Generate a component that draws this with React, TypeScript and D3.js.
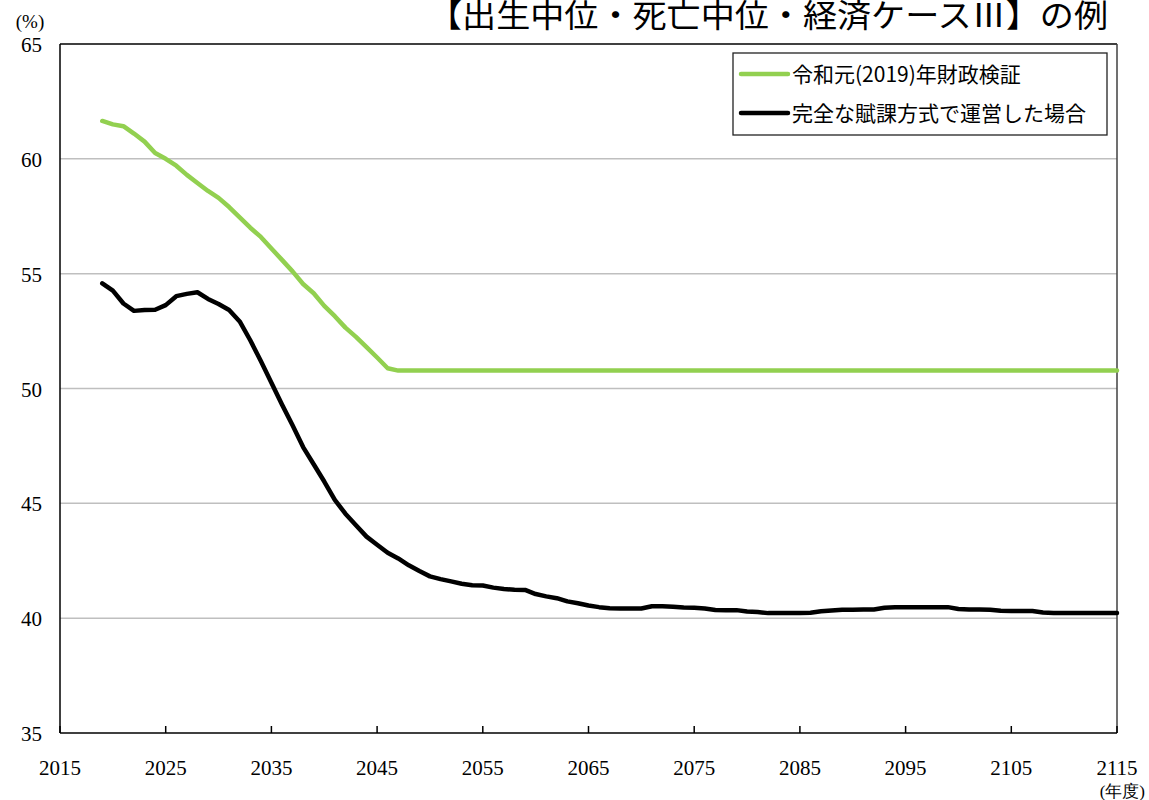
import React from "react";
import * as d3 from "d3";

const startYear = 2019;
const endYear = 2115;

// 令和元(2019)年財政検証 (2019-2046, then flat)
const zaiseiHead: number[] = [
  61.65, 61.5, 61.42, 61.1, 60.75, 60.25, 60.0, 59.7, 59.3, 58.95,
  58.6, 58.3, 57.9, 57.45, 57.0, 56.6, 56.1, 55.6, 55.1, 54.55,
  54.15, 53.6, 53.15, 52.65, 52.25, 51.8, 51.35, 50.88,
];
const zaiseiFlat = 50.78; // 2047 onwards

// 完全な賦課方式で運営した場合 (2019-2115)
const fuka: number[] = [
  54.58, 54.26, 53.7, 53.38, 53.42, 53.43, 53.63, 54.02, 54.12, 54.19,
  53.9, 53.68, 53.42, 52.92, 52.1, 51.2, 50.25, 49.3, 48.4, 47.45,
  46.7, 45.95, 45.15, 44.55, 44.05, 43.55, 43.2, 42.85, 42.6, 42.3,
  42.05, 41.82, 41.7, 41.6, 41.5, 41.43, 41.42, 41.33, 41.27, 41.24,
  41.23, 41.05, 40.95, 40.87, 40.73, 40.65, 40.55, 40.48, 40.43, 40.42,
  40.42, 40.42, 40.52, 40.52, 40.5, 40.46, 40.45, 40.42, 40.36, 40.35,
  40.35, 40.29, 40.27, 40.22, 40.22, 40.22, 40.22, 40.24, 40.3, 40.33,
  40.37, 40.37, 40.38, 40.38, 40.45, 40.48, 40.48, 40.48, 40.48, 40.48,
  40.48, 40.4, 40.38, 40.38, 40.37, 40.32, 40.31, 40.31, 40.31, 40.25,
  40.22, 40.22, 40.22, 40.22, 40.22, 40.22, 40.22,
];

const xTicks = [2015, 2025, 2035, 2045, 2055, 2065, 2075, 2085, 2095, 2105, 2115];
const yTicks = [35, 40, 45, 50, 55, 60, 65];
const gridValues = [40, 45, 50, 55, 60];

const title = "【出生中位・死亡中位・経済ケースⅢ】の例";
const legendLabels = ["令和元(2019)年財政検証", "完全な賦課方式で運営した場合"];
const colors = ["#92D050", "#000000"];

const W = 1149;
const H = 800;
const M = { left: 60, right: 1117, top: 44, bottom: 733 };

export default function App() {
  const x = d3.scaleLinear().domain([2015, 2115]).range([M.left, M.right]);
  const y = d3.scaleLinear().domain([35, 65]).range([M.bottom, M.top]);

  const years = d3.range(startYear, endYear + 1);
  const zaisei = years.map((yr, i) => ({
    year: yr,
    v: i < zaiseiHead.length ? zaiseiHead[i] : zaiseiFlat,
  }));
  const fukaData = years.map((yr, i) => ({ year: yr, v: fuka[i] }));

  const line = d3
    .line<{ year: number; v: number }>()
    .x((d) => x(d.year))
    .y((d) => y(d.v));

  const serif = "'Liberation Serif', 'DejaVu Serif', serif";
  const sans = "'Noto Sans CJK JP', 'Noto Sans', sans-serif";

  const lg = { x0: 733, y0: 53, x1: 1107, y1: 135 };

  return (
    <svg
      width={W}
      height={H}
      style={{ position: "absolute", left: 0, top: 0, background: "#fff" }}
    >
      <rect x={0} y={0} width={W} height={H} fill="#fff" />
      <text
        x={428}
        y={27}
        fontFamily={sans}
        fontSize={32}
        fill="#000"
        textLength={680}
        lengthAdjust="spacingAndGlyphs"
      >
        {title}
      </text>

      {gridValues.map((g) => (
        <line
          key={g}
          x1={M.left}
          x2={M.right}
          y1={y(g)}
          y2={y(g)}
          stroke="#BFBFBF"
          strokeWidth={1.5}
        />
      ))}

      {/* frame */}
      <line x1={M.left} x2={M.right} y1={M.top} y2={M.top} stroke="#000" strokeWidth={1.5} />
      <line x1={M.right} x2={M.right} y1={M.top} y2={M.bottom} stroke="#404040" strokeWidth={1.5} />
      <line x1={M.left} x2={M.left} y1={M.top} y2={M.bottom} stroke="#000" strokeWidth={1.5} />
      <line x1={M.left} x2={M.right} y1={M.bottom} y2={M.bottom} stroke="#000" strokeWidth={1.5} />

      {xTicks.map((t) => (
        <g key={t}>
          <line x1={x(t)} x2={x(t)} y1={M.bottom} y2={M.bottom - 7} stroke="#000" strokeWidth={1.5} />
          <text
            x={x(t)}
            y={775}
            textAnchor="middle"
            fontFamily={serif}
            fontSize={21}
            fill="#000"
          >
            {t}
          </text>
        </g>
      ))}

      {yTicks.map((t) => (
        <text
          key={t}
          x={42}
          y={y(t) + 8}
          textAnchor="end"
          fontFamily={serif}
          fontSize={21}
          fill="#000"
        >
          {t}
        </text>
      ))}

      <text x={30} y={28} textAnchor="middle" fontFamily={serif} fontSize={19} fill="#000">
        (%)
      </text>
      <text x={1145} y={797} textAnchor="end" fontFamily={serif} fontSize={17} fill="#000">
        (年度)
      </text>

      <path
        d={line(zaisei) || ""}
        fill="none"
        stroke={colors[0]}
        strokeWidth={4.5}
        strokeLinejoin="round"
        strokeLinecap="round"
      />
      <path
        d={line(fukaData) || ""}
        fill="none"
        stroke={colors[1]}
        strokeWidth={4.5}
        strokeLinejoin="round"
        strokeLinecap="round"
      />

      {/* legend */}
      <rect
        x={lg.x0}
        y={lg.y0}
        width={lg.x1 - lg.x0}
        height={lg.y1 - lg.y0}
        fill="#fff"
        stroke="#222"
        strokeWidth={1.3}
      />
      {legendLabels.map((lab, i) => {
        const cy = i === 0 ? 74 : 113;
        return (
          <g key={lab}>
            <line x1={741} x2={788} y1={cy} y2={cy} stroke={colors[i]} strokeWidth={4.5} strokeLinecap="round" />
            <text x={792} y={cy + 8} fontFamily={sans} fontSize={21} fill="#000">
              {lab}
            </text>
          </g>
        );
      })}
    </svg>
  );
}
